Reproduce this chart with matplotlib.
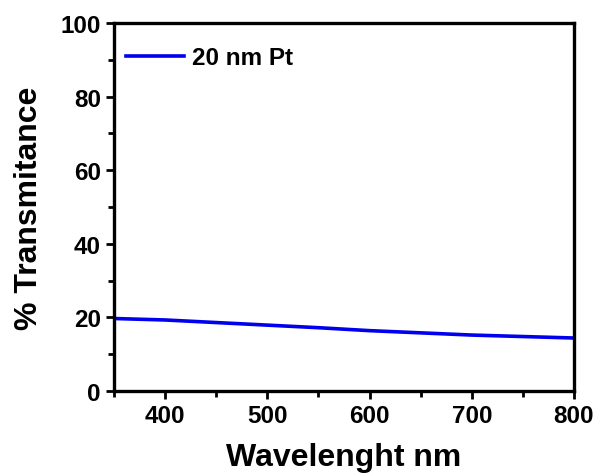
import matplotlib
matplotlib.use("Agg")
import matplotlib.pyplot as plt
from matplotlib.ticker import MultipleLocator

plt.rcParams['font.family'] = ['Liberation Sans', 'DejaVu Sans']
plt.rcParams['font.weight'] = 'bold'

wavelength = [350, 400, 450, 500, 550, 600, 650, 700, 750, 800]
transmit = [19.7, 19.3, 18.6, 17.9, 17.2, 16.4, 15.8, 15.2, 14.8, 14.4]

fig = plt.figure(figsize=(5.96, 4.77), dpi=100)
ax = fig.add_axes([114/596, 1 - 392/477, 460/596, 368/477])

ax.plot(wavelength, transmit, color='#0000ee', linewidth=2.6, label='20 nm Pt')

ax.set_xlim(350, 800)
ax.set_ylim(0, 100)
ax.xaxis.set_major_locator(MultipleLocator(100))
ax.xaxis.set_minor_locator(MultipleLocator(50))
ax.yaxis.set_major_locator(MultipleLocator(20))
ax.yaxis.set_minor_locator(MultipleLocator(10))
ax.tick_params(which='both', direction='out', width=2, labelsize=17.5, top=False, right=False)
ax.tick_params(which='major', length=6)
ax.tick_params(which='minor', length=4)
for s in ax.spines.values():
    s.set_linewidth(2.4)

ax.set_xlabel('Wavelenght nm', fontsize=23, fontweight='bold', labelpad=11)
ax.set_ylabel('% Transmitance', fontsize=23, fontweight='bold', labelpad=12)

leg = ax.legend(loc='upper left', bbox_to_anchor=(0.0, 0.97), frameon=False,
                fontsize=17.5, handlelength=2.4, borderaxespad=0.1, handletextpad=0.3)

fig.savefig('out.png', dpi=100)
